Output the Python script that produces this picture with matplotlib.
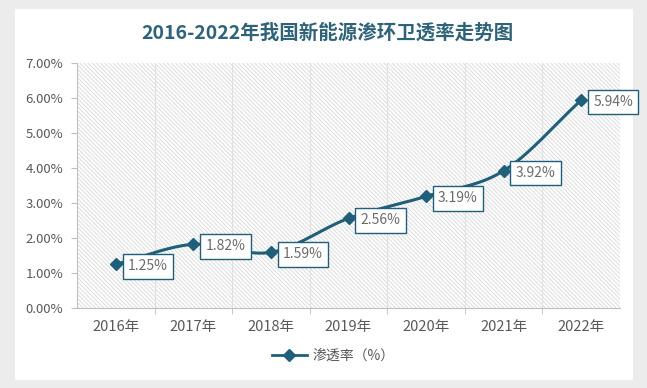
import numpy as np
import matplotlib
matplotlib.use("Agg")
import matplotlib.pyplot as plt
from matplotlib.patches import Rectangle
from matplotlib.lines import Line2D

plt.rcParams['font.family'] = ['Noto Sans CJK SC', 'DejaVu Sans']
plt.rcParams['hatch.color'] = '#dcdcdc'
plt.rcParams['hatch.linewidth'] = 0.7

years = ['2016年', '2017年', '2018年', '2019年', '2020年', '2021年', '2022年']
rates = [1.25, 1.82, 1.59, 2.56, 3.19, 3.92, 5.94]
labels = ['1.25%', '1.82%', '1.59%', '2.56%', '3.19%', '3.92%', '5.94%']
yticks = [0, 1, 2, 3, 4, 5, 6, 7]
title = '2016-2022年我国新能源渗环卫透率走势图'
legend_label = '渗透率（%）'

W, H = 647, 388
fig = plt.figure(figsize=(W / 100, H / 100), dpi=100)
fig.patch.set_facecolor('#ececec')
# white card
fig.patches.append(Rectangle((15 / W, 1 - 380 / H), (633 - 15) / W, (380 - 9) / H,
                             transform=fig.transFigure, facecolor='white',
                             edgecolor='none', zorder=-5))

ax = fig.add_axes([77 / W, 1 - 308 / H, (620 - 77) / W, (308 - 63) / H])
ax.set_zorder(2)
ax.set_facecolor('white')
ax.add_patch(Rectangle((0, 0), 1, 1, transform=ax.transAxes, facecolor='white',
                       edgecolor='#dcdcdc', hatch='\\' * 8, linewidth=0, zorder=0))

color = '#1f5f7a'
x = np.arange(len(rates))
y = np.array(rates, dtype=float)

# Catmull-Rom smoothing for rendering (Excel-like smoothed line)
def smooth(xp, yp, n=30):
    px = np.concatenate([[2 * xp[0] - xp[1]], xp, [2 * xp[-1] - xp[-2]]])
    py = np.concatenate([[2 * yp[0] - yp[1]], yp, [2 * yp[-1] - yp[-2]]])
    sx, sy = [], []
    for i in range(1, len(px) - 2):
        t = np.linspace(0, 1, n, endpoint=False)
        for arr, out in ((px, sx), (py, sy)):
            p0, p1, p2, p3 = arr[i - 1], arr[i], arr[i + 1], arr[i + 2]
            out.extend(0.5 * ((2 * p1) + (-p0 + p2) * t +
                              (2 * p0 - 5 * p1 + 4 * p2 - p3) * t ** 2 +
                              (-p0 + 3 * p1 - 3 * p2 + p3) * t ** 3))
    sx.append(xp[-1]); sy.append(yp[-1])
    return np.array(sx), np.array(sy)

sx, sy = smooth(x.astype(float), y)
ax.plot(sx, sy, color=color, linewidth=2.2, zorder=3)
ax.plot(x, y, linestyle='none', marker='D', markersize=6.5, color=color, zorder=4)

for xi, yi, lab in zip(x, y, labels):
    ax.annotate(lab, (xi, yi), xytext=(12, -2), textcoords='offset pixels',
                ha='left', va='center', fontsize=10, color='#6b6b6b', zorder=5,
                bbox=dict(boxstyle='square,pad=0.38', facecolor='white',
                          edgecolor=color, linewidth=1))

ax.set_xlim(-0.5, len(rates) - 0.5)
ax.set_ylim(0, 7)
ax.set_yticks(yticks)
ax.set_yticklabels([f'{v:.2f}%' for v in yticks], fontsize=9.5, color='#595959')
ax.set_xticks(x)
ax.set_xticklabels(years, fontsize=10.5, color='#595959')
ax.set_xticks(np.arange(len(rates) - 1) + 0.5, minor=True)
ax.tick_params(axis='x', which='major', length=0, pad=9)
ax.tick_params(axis='x', which='minor', length=4, color='#bfbfbf')
ax.tick_params(axis='y', length=4, color='#bfbfbf', pad=6)
ax.grid(True, which='minor', axis='x', color='#e0e0e0', linewidth=0.8)
for s in ['top', 'right']:
    ax.spines[s].set_visible(False)
for s in ['left', 'bottom']:
    ax.spines[s].set_color('#bfbfbf')
    ax.spines[s].set_linewidth(0.8)

fig.text(327 / W, 1 - 33 / H, title, ha='center', va='center', fontsize=14,
         fontweight='bold', color='#2e6378')

handle = Line2D([], [], color=color, linewidth=2, marker='D', markersize=6)
fig.legend([handle], [legend_label], loc='center', bbox_to_anchor=(333 / W, 1 - 356 / H),
           frameon=False, fontsize=10, labelcolor='#595959', handlelength=2.5,
           handletextpad=0.4)

fig.savefig('out.png', dpi=100, facecolor=fig.get_facecolor())
